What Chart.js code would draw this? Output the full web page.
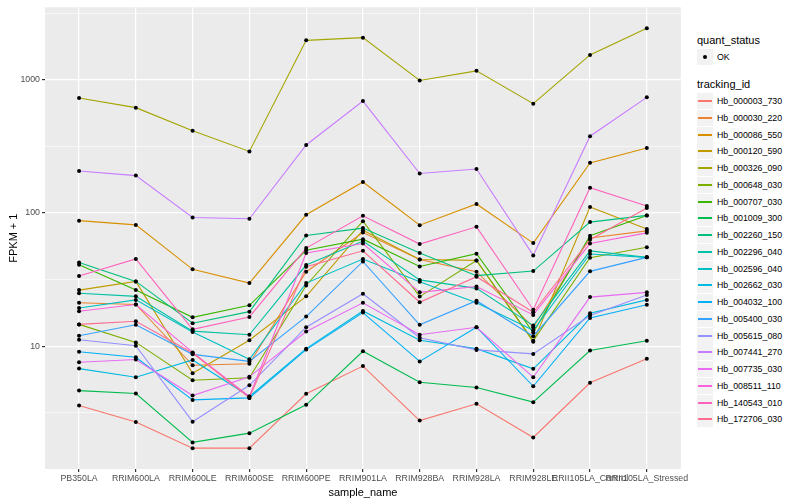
<!DOCTYPE html>
<html lang="en">
<head>
<meta charset="UTF-8">
<title>FPKM + 1 by sample_name</title>
<script src="https://cdn.jsdelivr.net/npm/chart.js"></script>
<style>
  body { margin: 0; background: #fff; font-family: "Liberation Sans", Arial, sans-serif; }
  #wrap { position: relative; width: 800px; height: 500px; }
  #chartBox { position: absolute; left: 0; top: 0; width: 690px; height: 500px; }
  #legend { position: absolute; left: 697px; top: 0; width: 103px; height: 500px; }
  .ltitle { position: absolute; left: 0; font-size: 11px; line-height: 13px; white-space: nowrap; color: #000; }
  .key { position: absolute; left: 0; width: 16px; height: 16px; background: #f2f2f2; }
  .key i { position: absolute; left: 1px; right: 1px; top: 7px; height: 1.5px; }
  .key b { position: absolute; left: 6px; top: 6px; width: 4px; height: 4px; border-radius: 50%; background: #000; }
  .ltext { position: absolute; left: 20px; font-size: 8.8px; line-height: 10px; white-space: nowrap; color: #000; }
</style>
</head>
<body>
<div id="wrap">
  <div id="chartBox"><canvas id="fpkmChart" width="690" height="500"></canvas></div>
  <div id="legend"></div>
</div>

<script>
  // sample order on the x axis
  const categories = ['PB350LA', 'RRIM600LA', 'RRIM600LE', 'RRIM600SE', 'RRIM600PE', 'RRIM901LA',
    'RRIM928BA', 'RRIM928LA', 'RRIM928LE', 'RRII105LA_Control', 'RRII105LA_Stressed'];

  const trackingIds = ['Hb_000003_730', 'Hb_000030_220', 'Hb_000086_550', 'Hb_000120_590', 'Hb_000326_090',
    'Hb_000648_030', 'Hb_000707_030', 'Hb_001009_300', 'Hb_002260_150', 'Hb_002296_040',
    'Hb_002596_040', 'Hb_002662_030', 'Hb_004032_100', 'Hb_005400_030', 'Hb_005615_080',
    'Hb_007441_270', 'Hb_007735_030', 'Hb_008511_110', 'Hb_140543_010', 'Hb_172706_030'];

  // FPKM + 1
  const hb_000003_730 = [3.6, 2.7, 1.72, 1.72, 4.4, 7.1, 2.77, 3.7, 2.07, 5.32, 8.05];
  const hb_000030_220 = [21.2, 20.6, 7.2, 7.4, 36.3, 71.4, 44.8, 36.3, 13.9, 65, 73.5];
  const hb_000086_550 = [87.7, 81.5, 37.8, 29.8, 97, 171, 81, 117, 59.5, 238, 308];
  const hb_000120_590 = [26.4, 30.7, 6.28, 11.1, 23.7, 74.4, 44.8, 44.1, 10.8, 111, 76];
  const hb_000326_090 = [730, 618, 414, 290, 1977, 2070, 988, 1167, 662, 1537, 2433];
  const hb_000648_030 = [14.6, 10.7, 5.56, 5.8, 28.6, 86.9, 23.6, 44.1, 11.0, 46.2, 55.4];
  const hb_000707_030 = [40.9, 26.4, 16.5, 20.3, 52.5, 63.7, 39.7, 49.5, 12.7, 67.5, 96];
  const hb_001009_300 = [4.65, 4.42, 1.9, 2.23, 3.64, 9.18, 5.37, 4.91, 3.81, 9.29, 11.0];
  const hb_002260_150 = [42.6, 30.7, 14.9, 18.2, 67.8, 77.1, 50.1, 33.9, 36.7, 85.5, 96];
  const hb_002296_040 = [25.0, 23.7, 13.0, 12.2, 40.7, 61.6, 31.5, 27.2, 14.3, 52, 46.5];
  const hb_002596_040 = [19.4, 22.3, 12.8, 8.0, 29.8, 45.2, 30.5, 21.2, 13.2, 49.3, 46.5];
  const hb_002662_030 = [6.8, 5.86, 7.9, 4.2, 9.6, 18.4, 11.1, 9.6, 6.77, 17.7, 22.3];
  const hb_004032_100 = [9.1, 8.27, 3.96, 4.1, 9.45, 17.9, 7.7, 13.9, 5.01, 16.3, 20.5];
  const hb_005400_030 = [12.0, 14.5, 8.7, 7.7, 16.7, 43.3, 14.5, 22.0, 11.9, 36.5, 46.5];
  const hb_005615_080 = [11.2, 10.1, 2.72, 5.1, 13.9, 24.8, 11.6, 9.4, 8.77, 17.0, 24.3];
  const hb_007441_270 = [207, 191, 92.5, 90.5, 324, 692, 198, 214, 48.1, 377, 738];
  const hb_007735_030 = [7.6, 7.95, 4.27, 5.9, 12.9, 21.2, 12.2, 13.9, 5.86, 23.4, 25.4];
  const hb_008511_110 = [18.3, 20.6, 9.0, 4.2, 50.1, 59.1, 25.4, 28.1, 17.2, 59, 71];
  const hb_140543_010 = [33.7, 45.2, 13.4, 16.6, 54.6, 95.3, 58.5, 78.8, 18.8, 155, 113];
  const hb_172706_030 = [14.6, 15.4, 8.9, 4.1, 39.6, 52.1, 21.4, 33.3, 18.0, 63, 109];

  const seriesValues = [hb_000003_730, hb_000030_220, hb_000086_550, hb_000120_590, hb_000326_090,
    hb_000648_030, hb_000707_030, hb_001009_300, hb_002260_150, hb_002296_040,
    hb_002596_040, hb_002662_030, hb_004032_100, hb_005400_030, hb_005615_080,
    hb_007441_270, hb_007735_030, hb_008511_110, hb_140543_010, hb_172706_030];

  const yTicks = [10, 100, 1000];

  // ggplot default hue palette, 20 levels
  const palette = ['#F8766D', '#EA8331', '#D89000', '#C09B00', '#A3A500', '#7CAE00', '#39B600', '#00BB4E',
    '#00BF7D', '#00C1A3', '#00BFC4', '#00BAE0', '#00B0F6', '#35A2FF', '#9590FF', '#C77CFF',
    '#E76BF3', '#FA62DB', '#FF62BC', '#FF6C91'];

  const FONT = '"Liberation Sans", Arial, sans-serif';
  const yGrid = [];
  yTicks.forEach(t => { yGrid.push(t / Math.sqrt(10)); yGrid.push(t); });
  yGrid.push(yTicks[yTicks.length - 1] * Math.sqrt(10));
  const isMajor = v => yTicks.some(t => Math.abs(t - v) < 1e-6);

  const panelBg = {
    id: 'panelBg',
    beforeDraw(chart) {
      const { ctx, chartArea: a } = chart;
      ctx.save();
      ctx.fillStyle = '#ebebeb';
      ctx.fillRect(a.left, a.top, a.right - a.left, a.bottom - a.top);
      ctx.restore();
    }
  };

  const lineSets = seriesValues.map((vals, i) => ({
    label: trackingIds[i],
    data: vals.map((v, j) => ({ x: j, y: v })),
    borderColor: palette[i],
    borderWidth: 1.1,
    pointRadius: 0,
    tension: 0,
    order: 100 - i
  }));

  const pointSet = {
    label: 'OK',
    data: seriesValues.flatMap(vals => vals.map((v, j) => ({ x: j, y: v }))),
    showLine: false,
    pointRadius: 2,
    pointBackgroundColor: '#000',
    pointBorderWidth: 0,
    order: 0
  };

  new Chart(document.getElementById('fpkmChart'), {
    type: 'line',
    data: { datasets: [pointSet, ...lineSets] },
    plugins: [panelBg],
    options: {
      responsive: false,
      animation: false,
      layout: { padding: { top: 5, right: 7, left: 0, bottom: 0 } },
      plugins: { legend: { display: false }, tooltip: { enabled: false } },
      scales: {
        x: {
          type: 'linear',
          min: -0.6,
          max: categories.length - 0.4,
          afterBuildTicks: s => { s.ticks = categories.map((c, i) => ({ value: i })); },
          afterFit: s => { s.height = 31; },
          ticks: {
            autoSkip: false, maxRotation: 0, padding: 1.5, color: '#4d4d4d',
            font: { family: FONT, size: 8.8 },
            callback: v => categories[Math.round(v)]
          },
          grid: { color: '#fff', lineWidth: 1.2, tickColor: '#333', tickLength: 3 },
          border: { display: false },
          title: { display: true, text: 'sample_name', color: '#000', font: { family: FONT, size: 11 }, padding: { top: 4, bottom: 0 } }
        },
        y: {
          type: 'logarithmic',
          min: 1.2,
          max: 3500,
          afterBuildTicks: s => { s.ticks = yGrid.map(v => ({ value: v })); },
          afterFit: s => { s.width = 45; },
          ticks: {
            padding: 2, color: '#4d4d4d',
            font: { family: FONT, size: 8.8 },
            callback: v => isMajor(v) ? String(Math.round(v)) : ''
          },
          grid: {
            color: '#fff',
            lineWidth: c => (c.tick && isMajor(c.tick.value)) ? 1.2 : 0.6,
            tickColor: c => (c.tick && isMajor(c.tick.value)) ? '#333' : 'rgba(0,0,0,0)',
            tickLength: 3
          },
          border: { display: false },
          title: { display: true, text: 'FPKM + 1', color: '#000', font: { family: FONT, size: 11 }, padding: { top: 7, bottom: 0 } }
        }
      }
    }
  });

  // legend, ggplot style
  const legend = document.getElementById('legend');
  function add(html) { legend.insertAdjacentHTML('beforeend', html); }
  add('<div class="ltitle" style="top:34px">quant_status</div>');
  add('<div class="key" style="top:49px"><b></b></div>');
  add('<div class="ltext" style="top:52px">OK</div>');
  add('<div class="ltitle" style="top:78px">tracking_id</div>');
  trackingIds.forEach((id, i) => {
    const top = Math.round(101 + i * 16.75 - 8);
    add('<div class="key" style="top:' + top + 'px"><i style="background:' + palette[i] + '"></i></div>');
    add('<div class="ltext" style="top:' + (top + 3) + 'px">' + id + '</div>');
  });
</script>
</body>
</html>
